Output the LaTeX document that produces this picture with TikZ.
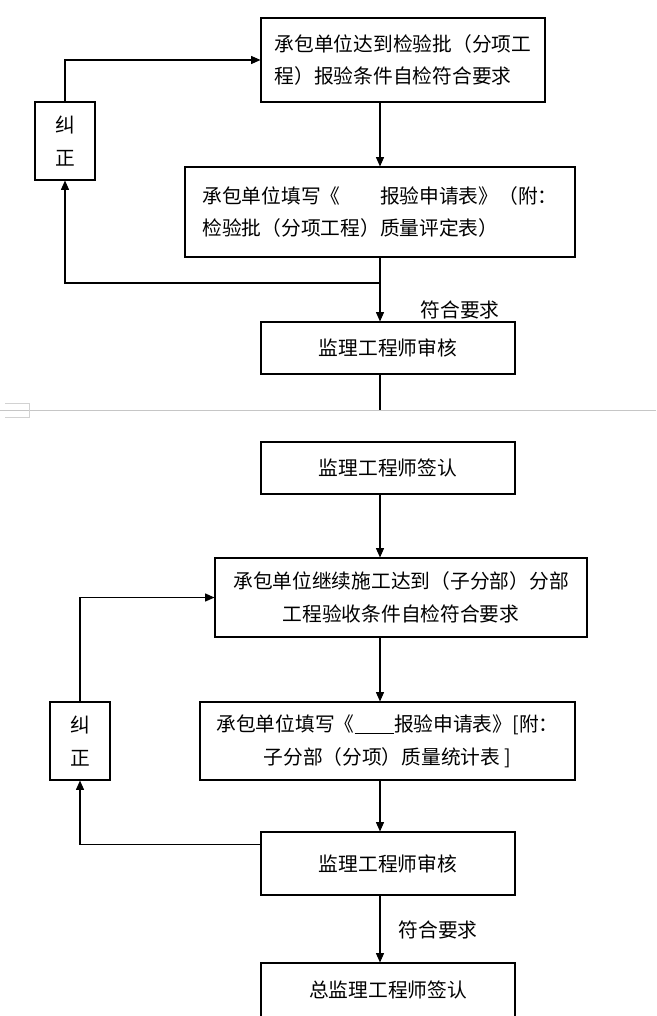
\documentclass[tikz,border=0pt]{standalone}
\usepackage{fontspec}
\newfontfamily\cjkfont{Noto Sans CJK SC}
\usetikzlibrary{
  arrows.meta,
  positioning,
  calc
}

\begin{document}
\begin{tikzpicture}[x=0.75pt, y=-0.75pt,
    caixa/.style={draw, line width=0.8pt, inner sep=0pt,
      font=\cjkfont\fontsize{14.8pt}{24.5pt}\selectfont},
    rotulo/.style={inner sep=0pt, font=\cjkfont\fontsize{14.8pt}{24.5pt}\selectfont},
    seta/.style={line width=0.8pt, -{Triangle[length=7pt,width=6pt]}},
    linha/.style={line width=0.8pt}]
    \clip (0,0) rectangle (656,1016);

    % Parte 1:检验批
    \node[caixa, minimum width=213pt, minimum height=63pt, align=left] (cond1) at (403,60) {
        承包单位达到检验批（分项工\\
        程）报验条件自检符合要求
    };
    \node[caixa, minimum width=45pt, minimum height=58.5pt, align=center] (corr1) at (65,141) {纠\\正};
    \draw[seta] (corr1.north) |- (cond1.west);

    \node[caixa, minimum width=292.5pt, minimum height=67.5pt, align=left] (pedido1) at (380,212) {
        承包单位填写《\hspace{2em}报验申请表》（附：\\
        检验批（分项工程）质量评定表）
    };
    \draw[seta] (cond1.south -| pedido1.north) -- (pedido1.north);

    \node[caixa, minimum width=190.5pt, minimum height=39pt] (rev1) at (388,348) {监理工程师审核};
    \coordinate (ramo1) at (380,283);
    \draw[seta] (pedido1.south) -- (pedido1.south |- rev1.north);
    \draw[seta] (ramo1) -| (corr1.south);
    \node[rotulo] (ok1) at (460,310) {符合要求};

    % quebra de pagina
    \coordinate (quebra) at (380,410);
    \draw[linha] (rev1.south -| quebra) -- (quebra);
    \draw[gray!45, line width=0.6pt] (0,410) -- (656,410);
    \draw[gray!35, line width=0.5pt] (5,403) -- (29,403) -- (29,417) -- (5,417);

    % Parte 2: 子分部
    \node[caixa, minimum width=190.5pt, minimum height=39pt] (assina1) at (388,468) {监理工程师签认};

    \node[caixa, minimum width=279pt, minimum height=59.25pt, align=center] (cond2) at (401,597.5) {
        承包单位继续施工达到（子分部）分部\\
        工程验收条件自检符合要求
    };
    \draw[seta] (assina1.south -| quebra) -- (cond2.north -| quebra);
    \node[caixa, minimum width=45pt, minimum height=58.5pt, align=center] (corr2) at (80,741) {纠\\正};
    \draw[seta] (corr2.north) |- (cond2.west);

    \node[caixa, minimum width=281.25pt, minimum height=58.5pt, align=center] (pedido2) at (387.5,741) {
        承包单位填写《\underline{\hspace{2em}}报验申请表》[附：\\
        子分部（分项）质量统计表 ]
    };
    \draw[seta] (cond2.south -| quebra) -- (pedido2.north -| quebra);

    \node[caixa, minimum width=190.5pt, minimum height=47.25pt] (rev2) at (388,863.5) {监理工程师审核};
    \draw[seta] (pedido2.south -| quebra) -- (rev2.north -| quebra);
    \draw[seta] ([yshift=14pt]rev2.west) -| (corr2.south);

    \node[caixa, minimum width=190.5pt, minimum height=40.5pt] (assina2) at (388,990) {总监理工程师签认};
    \draw[seta] (rev2.south -| quebra) -- (assina2.north -| quebra);
    \node[rotulo] (ok2) at (438,930) {符合要求};
\end{tikzpicture}
\end{document}
